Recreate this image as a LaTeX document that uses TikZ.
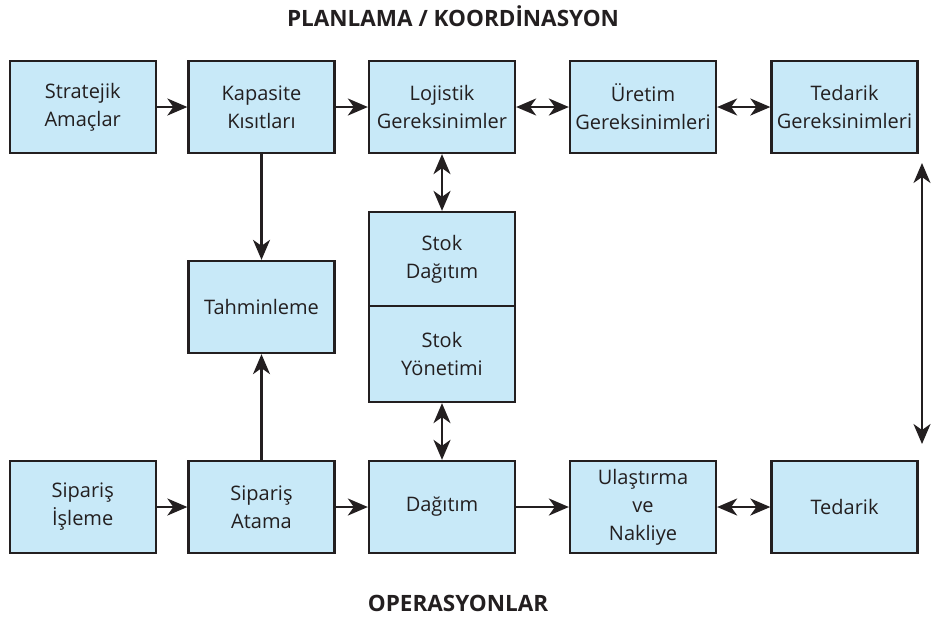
\documentclass[tikz,border=0pt]{standalone}
\usepackage{fontspec}
\setmainfont{Open Sans}
\usetikzlibrary{arrows.meta}
\definecolor{boxfill}{RGB}{200,233,248}
\definecolor{ink}{RGB}{35,31,32}
\begin{document}
\begin{tikzpicture}[x=1pt,y=-1pt,
  blk/.style={draw=ink,line width=2.3pt,fill=boxfill,minimum width=146pt,minimum height=92pt,
    inner sep=0pt,align=center,font=\fontsize{20}{28}\selectfont,text=ink},
  conn/.style={draw=ink,line width=2.3pt,-{Stealth[length=20pt,width=17pt,inset=6pt]}},
  both/.style={draw=ink,line width=2.3pt,{Stealth[length=20pt,width=17pt,inset=6pt]}-{Stealth[length=20pt,width=17pt,inset=6pt]}},
  heading/.style={font=\fontsize{22.5}{26}\selectfont\bfseries,text=ink}]
\useasboundingbox (0,0) rectangle (932,622);

% section headings
\node[heading] (plan) at (453,16) {PLANLAMA / KOORDİNASYON};
\node[heading] (ops) at (458,603) {OPERASYONLAR};

% planning row
\node[blk] (strat) at (82.7,107) {Stratejik\\Amaçlar};
\node[blk] (kap)   at (261.5,107) {Kapasite\\Kısıtları};
\node[blk] (loj)   at (442,107) {Lojistik\\Gereksinimler};
\node[blk] (uret)  at (643,107) {Üretim\\Gereksinimleri};
\node[blk] (tedg)  at (844.5,107) {Tedarik\\Gereksinimleri};

% middle
\node[blk] (tah) at (261.5,307) {Tahminleme};
\node[blk,minimum height=94pt] (stokd) at (442,259) {Stok\\Dağıtım};
\node[blk,minimum height=96pt] (stoky) at (442,354) {Stok\\Yönetimi};

% operations row
\node[blk] (sipi)  at (82.7,507) {Sipariş\\İşleme};
\node[blk] (sipa)  at (261.5,507) {Sipariş\\Atama};
\node[blk] (dag)   at (442,507) {Dağıtım};
\node[blk] (ulas)  at (643,507) {Ulaştırma\\ve\\Nakliye};
\node[blk] (ted)   at (844.5,507) {Tedarik};

% free ends of the right-hand link
\coordinate (rtop) at (922,163);
\coordinate (rbot) at (922,444);

% connectors
\draw[conn] (strat) -- (kap);
\draw[conn] (kap) -- (loj);
\draw[both] (loj) -- (uret);
\draw[both] (uret) -- (tedg);
\draw[conn] (kap) -- (tah);
\draw[both] (loj) -- (stokd);
\draw[both] (stoky) -- (dag);
\draw[conn] (sipa) -- (tah);
\draw[conn] (sipi) -- (sipa);
\draw[conn] (sipa) -- (dag);
\draw[conn] (dag) -- (ulas);
\draw[both] (ulas) -- (ted);
\draw[both] (rtop) -- (rbot);
\end{tikzpicture}
\end{document}
